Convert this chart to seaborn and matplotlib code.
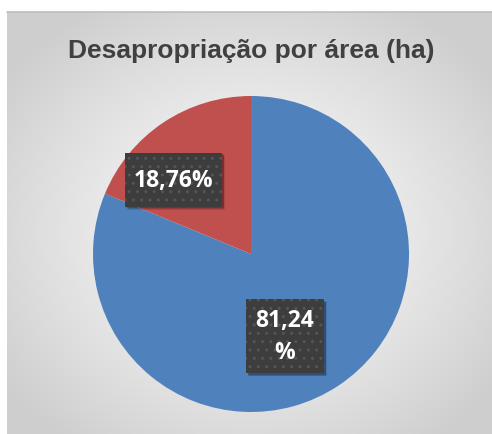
import numpy as np
import matplotlib
matplotlib.use("Agg")
import matplotlib.pyplot as plt
from matplotlib.patches import Rectangle
import seaborn as sns

title = "Desapropriação por área (ha)"
categories = ["Área 1", "Área 2"]
values = [81.24, 18.76]
value_labels = ["81,24\n%", "18,76%"]
colors = ["#4F81BD", "#C0504D"]

sns.set_theme(style="white")
plt.rcParams["font.family"] = ["Open Sans", "DejaVu Sans"]

W, H = 492, 435
fig = plt.figure(figsize=(W / 100, H / 100), dpi=100)
fig.patch.set_facecolor("white")

# background panel with radial gradient
bg = fig.add_axes([7 / W, 0, 1 - 7 / W, (H - 13) / H])
bg.set_axis_off()
ny, nx = 300, 340
yy, xx = np.mgrid[0:ny, 0:nx]
cx, cy = nx * 0.50, ny * 0.52
r = np.sqrt(((xx - cx) / (nx * 0.62)) ** 2 + ((yy - cy) / (ny * 0.62)) ** 2)
r = np.clip(r, 0, 1)
c0, c1 = 0.98, 0.81
g = c0 + (c1 - c0) * r ** 1.3
img = np.dstack([g, g, g])
bg.imshow(img, aspect="auto", extent=[0, 1, 0, 1], interpolation="bilinear")
bg.set_xlim(0, 1); bg.set_ylim(0, 1)
bg.plot([0, 1], [1, 1], color="#bdbdbd", lw=1.2, transform=bg.transAxes, clip_on=False)

fig.text(251 / W, 1 - 51 / H, title, ha="center", va="center",
         fontsize=19, fontweight="bold", color="#404040",
         family=["Liberation Sans", "DejaVu Sans"])

cxp, cyp, rad = 251, H - 255, 158
ax = fig.add_axes([(cxp - rad) / W, (cyp - rad) / H, 2 * rad / W, 2 * rad / H])
ax.set_axis_off()
ax.pie(values, colors=colors, startangle=90, counterclock=False,
       wedgeprops=dict(linewidth=0))
ax.set_xlim(-1, 1); ax.set_ylim(-1, 1)

# label boxes (position in data units of the pie axes, size in pixels)
label_pos = [(0.215, -0.52), (-0.49, 0.47)]
box_px = [(78, 74), (97, 54)]
upp = 1.0 / rad  # data units per pixel
for (x, y), (bw, bh), lab in zip(label_pos, box_px, value_labels):
    w, h = bw * upp, bh * upp
    for k, a in zip([4, 3, 2], [0.10, 0.14, 0.18]):
        ax.add_patch(Rectangle((x - w / 2 + k * upp * 0.8, y - h / 2 - k * upp * 0.8), w, h,
                               facecolor="black", alpha=a, linewidth=0, zorder=3))
    ax.add_patch(Rectangle((x - w / 2, y - h / 2), w, h, facecolor="#3d3d3d",
                           edgecolor="#555555", linewidth=0, hatch="..", zorder=4))
    ax.text(x, y, lab, ha="center", va="center", fontsize=16.5,
            fontweight="bold", color="white", linespacing=1.45, zorder=5)

fig.savefig("out.png", dpi=100)
